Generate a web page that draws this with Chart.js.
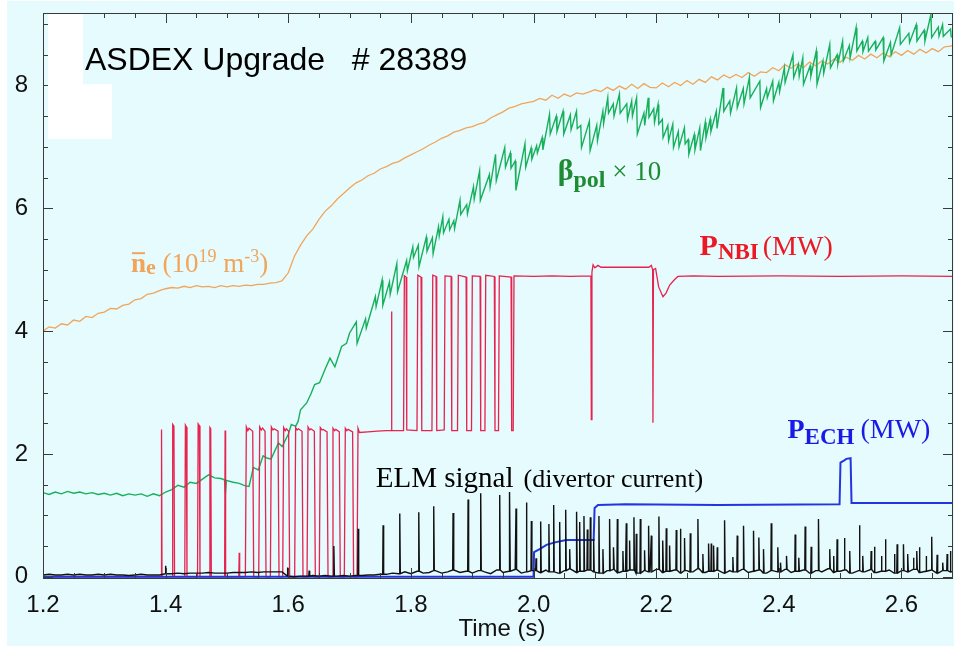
<!DOCTYPE html>
<html>
<head>
<meta charset="utf-8">
<title>ASDEX Upgrade #28389</title>
<script src="https://cdn.jsdelivr.net/npm/chart.js@4.4.1/dist/chart.umd.min.js"></script>
<style>
  html, body { margin: 0; padding: 0; background: #fff; }
  canvas { display: block; }
</style>
</head>
<body>
<canvas id="chart" width="954" height="647"></canvas>
<script>
// =======================
// DATA
// =======================

// axis tick labels
const xTicks = [1.2, 1.4, 1.6, 1.8, 2.0, 2.2, 2.4, 2.6];
const yTicks = [0, 2, 4, 6, 8];

// line-averaged density, 10^19 m^-3, sampled every 10 ms from 1.20 s
const neStart = 1.2, neStep = 0.01;
const neValues = [
  4.00, 4.07, 4.05, 4.12, 4.10, 4.18, 4.16, 4.24, 4.22, 4.29,
  4.31, 4.37, 4.36, 4.42, 4.44, 4.51, 4.53, 4.60, 4.62, 4.66,
  4.69, 4.71, 4.70, 4.73, 4.71, 4.74, 4.72, 4.73, 4.71, 4.74,
  4.72, 4.74, 4.73, 4.75, 4.74, 4.76, 4.76, 4.78, 4.79, 4.82,
  4.95, 5.22, 5.40, 5.55, 5.66, 5.82, 5.95, 6.04, 6.15, 6.24,
  6.33, 6.41, 6.46, 6.53, 6.57, 6.64, 6.68, 6.73, 6.76, 6.82,
  6.87, 6.92, 6.97, 7.03, 7.08, 7.14, 7.18, 7.24, 7.27, 7.31,
  7.33, 7.37, 7.40, 7.47, 7.52, 7.57, 7.63, 7.66, 7.70, 7.72,
  7.74, 7.79, 7.76, 7.84, 7.79, 7.86, 7.82, 7.88, 7.86, 7.89,
  7.93, 7.90, 7.97, 7.92, 7.99, 7.94, 8.02, 7.95, 8.03, 7.97,
  7.96, 8.04, 7.98, 8.05, 8.00, 8.08, 8.02, 8.10, 8.05, 8.14,
  8.09, 8.17, 8.12, 8.18, 8.13, 8.21, 8.15, 8.22, 8.21, 8.29,
  8.24, 8.34, 8.28, 8.35, 8.29, 8.38, 8.32, 8.40, 8.35, 8.43,
  8.38, 8.46, 8.41, 8.49, 8.43, 8.51, 8.45, 8.53, 8.47, 8.55,
  8.49, 8.57, 8.51, 8.59, 8.53, 8.60, 8.55, 8.63, 8.64, 8.68
];

// beta_pol x 10 up to 1.70 s (L-mode and early ramp)
const betaTime = [
  1.200, 1.210, 1.220, 1.230, 1.240, 1.250, 1.260, 1.270, 1.280, 1.290,
  1.300, 1.310, 1.320, 1.330, 1.340, 1.350, 1.360, 1.370, 1.380, 1.390,
  1.400, 1.410, 1.420, 1.430, 1.440, 1.450, 1.460, 1.470, 1.480, 1.490,
  1.496, 1.4975, 1.499, 1.510, 1.520, 1.530, 1.536, 1.543, 1.551, 1.559,
  1.566, 1.572, 1.584, 1.590, 1.600, 1.605, 1.612, 1.616, 1.620, 1.630,
  1.637, 1.643, 1.651, 1.660, 1.668, 1.676, 1.687, 1.695, 1.700
];
const betaValue = [
  1.37, 1.34, 1.38, 1.35, 1.39, 1.36, 1.38, 1.35, 1.37, 1.34,
  1.36, 1.33, 1.36, 1.32, 1.35, 1.33, 1.35, 1.31, 1.35, 1.32,
  1.38, 1.42, 1.49, 1.46, 1.54, 1.52, 1.59, 1.66, 1.61, 1.60,
  1.58, 1.36, 1.57, 1.54, 1.52, 1.48, 1.47, 1.78, 1.74, 1.97,
  1.93, 1.92, 2.18, 2.12, 2.32, 2.48, 2.45, 2.53, 2.72, 2.83,
  2.98, 3.13, 3.16, 3.38, 3.56, 3.42, 3.75, 3.80, 3.97
];

// beta_pol x 10 in H-mode: ELM crash times with value just before / just after
const betaCrash = [
  1.711, 1.726, 1.742, 1.753, 1.765, 1.777, 1.793, 1.803, 1.812, 1.825,
  1.835, 1.845, 1.852, 1.862, 1.870, 1.880, 1.891, 1.902, 1.912, 1.928,
  1.938, 1.953, 1.962, 1.970, 1.986, 1.996, 2.005, 2.014, 2.026, 2.037,
  2.048, 2.060, 2.070, 2.077, 2.091, 2.103, 2.113, 2.121, 2.130, 2.140,
  2.152, 2.160, 2.168, 2.180, 2.187, 2.196, 2.203, 2.210, 2.219, 2.227,
  2.236, 2.246, 2.252, 2.262, 2.271, 2.280, 2.288, 2.298, 2.309, 2.320,
  2.331, 2.342, 2.352, 2.369, 2.380, 2.390, 2.400, 2.409, 2.423, 2.432,
  2.439, 2.451, 2.461, 2.472, 2.483, 2.495, 2.504, 2.515, 2.526, 2.536,
  2.545, 2.557, 2.570, 2.582, 2.597, 2.612, 2.624, 2.637, 2.648, 2.660,
  2.667, 2.680
];
const betaPeak = [
  4.15, 4.20, 4.56, 4.83, 4.80, 5.10, 5.15, 5.37, 5.40, 5.53,
  5.52, 5.70, 5.86, 5.82, 5.80, 6.13, 6.06, 6.35, 6.61, 6.55,
  6.88, 6.99, 6.90, 6.77, 7.05, 6.98, 7.02, 7.15, 7.53, 7.50,
  7.58, 7.52, 7.58, 7.35, 7.42, 7.35, 7.58, 7.80, 7.70, 7.86,
  7.70, 7.75, 7.80, 7.55, 7.80, 7.62, 7.69, 7.45, 7.35, 7.37,
  7.25, 7.31, 7.12, 7.20, 7.31, 7.40, 7.45, 7.58, 7.96, 7.75,
  7.96, 7.95, 8.13, 8.07, 7.95, 8.07, 8.05, 8.29, 8.50, 8.35,
  8.45, 8.32, 8.56, 8.40, 8.67, 8.50, 8.72, 8.65, 8.94, 8.72,
  8.78, 8.72, 8.78, 8.70, 8.94, 8.85, 8.99, 8.90, 9.16, 8.95,
  8.99, 8.92
];
const betaDrop = [
  3.80, 4.05, 4.40, 4.42, 4.60, 4.64, 4.98, 5.20, 5.05, 5.30,
  5.26, 5.55, 5.60, 5.65, 5.67, 5.90, 5.91, 6.15, 6.13, 6.35,
  6.45, 6.67, 6.65, 6.29, 6.67, 6.80, 6.90, 6.95, 7.21, 7.25,
  7.21, 7.28, 7.30, 6.99, 6.94, 7.10, 7.38, 7.55, 7.50, 7.55,
  7.45, 7.50, 7.21, 7.35, 7.48, 7.40, 7.37, 7.15, 7.10, 6.99,
  7.00, 7.05, 6.88, 6.95, 6.94, 7.15, 7.25, 7.30, 7.58, 7.55,
  7.64, 7.70, 7.80, 7.64, 7.80, 7.75, 7.90, 8.05, 8.13, 8.15,
  8.02, 8.15, 8.02, 8.20, 8.29, 8.35, 8.40, 8.45, 8.56, 8.55,
  8.56, 8.58, 8.40, 8.50, 8.67, 8.70, 8.72, 8.72, 8.78, 8.80,
  8.80, 8.78
];

// NBI power, MW (modulated, then steady)
const nbiTime = [
  1.2000, 1.3925, 1.3933, 1.3941, 1.4105, 1.4115, 1.4135, 1.4145, 1.4312, 1.4322,
  1.4338, 1.4348, 1.4520, 1.4530, 1.4550, 1.4560, 1.4712, 1.4722, 1.4735, 1.4745,
  1.4962, 1.4970, 1.4978, 1.5193, 1.5200, 1.5207, 1.5300, 1.5316, 1.5340, 1.5360,
  1.5420, 1.5436, 1.5518, 1.5534, 1.5560, 1.5580, 1.5621, 1.5637, 1.5708, 1.5724,
  1.5750, 1.5770, 1.5833, 1.5849, 1.5909, 1.5925, 1.5950, 1.5970, 1.6006, 1.6022,
  1.6104, 1.6120, 1.6145, 1.6165, 1.6224, 1.6240, 1.6306, 1.6322, 1.6350, 1.6370,
  1.6425, 1.6441, 1.6506, 1.6522, 1.6550, 1.6570, 1.6632, 1.6648, 1.6713, 1.6729,
  1.6755, 1.6775, 1.6832, 1.6848, 1.6914, 1.6930, 1.6955, 1.6975, 1.7049, 1.7065,
  1.7121, 1.7137, 1.7160, 1.7300, 1.7450, 1.7600, 1.7676, 1.7683, 1.7690, 1.7880,
  1.7893, 1.7922, 1.7932, 1.8099, 1.8112, 1.8165, 1.8177, 1.8343, 1.8356, 1.8410,
  1.8421, 1.8543, 1.8556, 1.8655, 1.8666, 1.8760, 1.8773, 1.8900, 1.8910, 1.8988,
  1.9001, 1.9128, 1.9138, 1.9207, 1.9220, 1.9360, 1.9371, 1.9428, 1.9441, 1.9633,
  1.9643, 1.9668, 1.9681, 2.0000, 2.0300, 2.0600, 2.0935, 2.0942, 2.0952, 2.0970,
  2.1000, 2.1050, 2.1100, 2.1500, 2.1880, 2.1920, 2.1942, 2.1947, 2.1955, 2.1990,
  2.2040, 2.2110, 2.2160, 2.2220, 2.2300, 2.2354, 2.2600, 2.3000, 2.4000, 2.5000,
  2.6000, 2.6900
];
const nbiPower = [
  0, 0, 2.40, 0, 0, 2.48, 2.45, 0, 0, 2.47,
  2.44, 0, 0, 2.49, 2.46, 0, 0, 2.43, 2.41, 0,
  0, 2.38, 0, 0, 0.39, 0, 0, 2.44, 2.38, 2.42,
  2.37, 0, 0, 2.44, 2.39, 2.42, 2.37, 0, 0, 2.44,
  2.39, 2.41, 2.37, 0, 0, 2.43, 2.38, 2.41, 2.37, 0,
  0, 2.43, 2.39, 2.41, 2.37, 0, 0, 2.44, 2.39, 2.41,
  2.37, 0, 0, 2.43, 2.39, 2.40, 2.36, 0, 0, 2.42,
  2.38, 2.40, 2.36, 0, 0, 2.42, 2.38, 2.40, 2.36, 0,
  0, 2.42, 2.35, 2.36, 2.37, 2.38, 2.38, 4.32, 2.38, 2.38,
  4.90, 4.88, 2.39, 2.38, 4.91, 4.88, 2.38, 2.38, 4.91, 4.89,
  2.38, 2.39, 4.90, 4.89, 2.38, 2.38, 4.91, 4.88, 2.38, 2.38,
  4.90, 4.89, 2.38, 2.38, 4.91, 4.89, 2.38, 2.38, 4.90, 4.88,
  2.38, 2.38, 4.90, 4.89, 4.90, 4.89, 4.90, 2.56, 4.96, 5.08,
  5.03, 5.07, 5.04, 5.04, 5.04, 5.07, 5.00, 2.51, 5.00, 5.02,
  4.72, 4.56, 4.62, 4.75, 4.84, 4.89, 4.90, 4.89, 4.90, 4.89,
  4.90, 4.89
];

// ECH power, MW
const echTime  = [1.2, 2.0, 2.0008, 2.010, 2.021, 2.035, 2.053, 2.098, 2.0995, 2.105,
                  2.150, 2.300, 2.499, 2.5005, 2.506, 2.510, 2.517, 2.5185, 2.600, 2.690];
const echPower = [0, 0, 0.40, 0.45, 0.52, 0.56, 0.60, 0.60, 1.12, 1.17,
                  1.18, 1.17, 1.18, 1.86, 1.89, 1.92, 1.93, 1.20, 1.20, 1.20];

// ELM signal: baseline every 10 ms from 1.20 s, plus the individual ELM spikes
const elmStart = 1.2, elmStep = 0.01;
const elmBase = [
  0.03, 0.04, 0.03, 0.03, 0.04, 0.03, 0.04, 0.03, 0.03, 0.04,
  0.03, 0.04, 0.03, 0.03, 0.02, 0.03, 0.04, 0.03, 0.03, 0.03,
  0.05, 0.05, 0.06, 0.05, 0.06, 0.06, 0.06, 0.07, 0.06, 0.06,
  0.06, 0.07, 0.07, 0.07, 0.08, 0.07, 0.08, 0.08, 0.08, 0.08,
  0.01, 0.00, 0.01, 0.01, 0.02, 0.01, 0.02, 0.01, 0.01, 0.02,
  0.01, 0.02, 0.02, 0.03, 0.03, 0.04, 0.04, 0.06, 0.05, 0.08,
  0.05, 0.09, 0.06, 0.07, 0.10, 0.06, 0.08, 0.11, 0.07, 0.09,
  0.06, 0.10, 0.08, 0.05, 0.11, 0.07, 0.09, 0.12, 0.06, 0.08,
  0.10, 0.07, 0.11, 0.08, 0.06, 0.10, 0.13, 0.07, 0.09, 0.11,
  0.08, 0.06, 0.10, 0.12, 0.07, 0.09, 0.11, 0.06, 0.10, 0.08,
  0.12, 0.07, 0.09, 0.11, 0.06, 0.10, 0.08, 0.13, 0.07, 0.09,
  0.11, 0.06, 0.10, 0.08, 0.12, 0.07, 0.09, 0.11, 0.06, 0.10,
  0.08, 0.12, 0.07, 0.09, 0.11, 0.06, 0.10, 0.08, 0.13, 0.07,
  0.09, 0.11, 0.06, 0.10, 0.08, 0.12, 0.07, 0.09, 0.11, 0.06,
  0.10, 0.08, 0.12, 0.07, 0.09, 0.11, 0.06, 0.10, 0.08, 0.09
];
const elmTime = [
  1.400, 1.599, 1.634, 1.6743, 1.7139, 1.7546, 1.7818, 1.8128, 1.8372, 1.8687,
  1.8932, 1.9138, 1.9448, 1.9611, 1.9714, 1.9883, 1.9964, 2.004, 2.0116, 2.025,
  2.0328, 2.0426, 2.0524, 2.0589, 2.0703, 2.0752, 2.0822, 2.0877, 2.0926, 2.098,
  2.1066, 2.1131, 2.124, 2.1306, 2.1366, 2.1457, 2.1512, 2.1566, 2.1637, 2.1675,
  2.1741, 2.181, 2.1876, 2.192, 2.2044, 2.2109, 2.2164, 2.2218, 2.2327, 2.2397,
  2.2462, 2.2556, 2.268, 2.2761, 2.2854, 2.2898, 2.2935, 2.2996, 2.3115, 2.325,
  2.3321, 2.3424, 2.3587, 2.3674, 2.375, 2.3876, 2.3983, 2.4027, 2.4125, 2.4266,
  2.4325, 2.4429, 2.4527, 2.4646, 2.483, 2.4895, 2.495, 2.5069, 2.5156, 2.5314,
  2.5368, 2.5505, 2.5559, 2.5673, 2.5738, 2.5885, 2.5929, 2.6032, 2.6102, 2.6195,
  2.6249, 2.6293, 2.6402, 2.6493, 2.6581, 2.6672, 2.6744, 2.6798
];
const elmPeak = [
  0.18, 0.15, 0.10, 0.50, 0.78, 0.84, 1.03, 1.05, 1.15, 1.04,
  1.26, 1.36, 1.33, 1.38, 1.11, 1.21, 0.91, 0.30, 0.90, 0.86,
  1.17, 0.89, 1.09, 0.45, 1.06, 0.89, 0.99, 0.77, 0.97, 0.62,
  0.99, 0.45, 0.94, 0.48, 0.94, 0.42, 0.87, 0.59, 0.97, 0.70,
  0.94, 0.43, 0.83, 0.67, 0.98, 0.59, 0.79, 0.51, 0.76, 0.78,
  0.63, 0.71, 0.94, 0.37, 0.54, 0.54, 0.51, 0.48, 0.92, 0.32,
  0.67, 0.83, 0.75, 0.64, 0.45, 0.87, 0.48, 0.23, 0.34, 0.69,
  0.31, 0.82, 0.49, 0.94, 0.45, 0.34, 0.61, 0.63, 0.42, 0.84,
  0.34, 0.42, 0.49, 0.34, 0.61, 0.37, 0.53, 0.53, 0.37, 0.31,
  0.42, 0.48, 0.34, 0.65, 0.36, 0.23, 0.37, 0.42
];


// =======================
// STYLE
// =======================

const BG = "#e6fbfd";
const AXIS = "#3a3a3a";
const SANS = "'Liberation Sans', Arial, Helvetica, sans-serif";
const SERIF = "'Liberation Serif', 'Times New Roman', serif";

const C_NE = "#f0a55a";
const C_BETA = "#16b05c";
const C_NBI = "#e6224f";
const C_ECH = "#2236e0";
const C_ELM = "#111111";

Chart.defaults.font.family = SANS;
Chart.defaults.font.size = 24;
Chart.defaults.color = "#111";


// =======================
// BUILD POINTS
// =======================

const nePoints = neValues.map((v, i) => ({ x: neStart + i * neStep, y: v }));

// slow rise between crashes, near-vertical drop at each crash
const betaPoints = betaTime.map((t, i) => ({ x: t, y: betaValue[i] }));
betaCrash.forEach((t, i) => {
  betaPoints.push({ x: t, y: betaPeak[i] }, { x: t + 0.0012, y: betaDrop[i] });
});

const nbiPoints = nbiTime.map((t, i) => ({ x: t, y: nbiPower[i] }));
const echPoints = echTime.map((t, i) => ({ x: t, y: echPower[i] }));

const elmPoints = elmBase.map((v, i) => ({ x: elmStart + i * elmStep, y: v }));
elmTime.forEach((t, i) => {
  const b = elmBase[Math.round((t - elmStart) / elmStep)];
  elmPoints.push({ x: t - 0.0006, y: b }, { x: t, y: elmPeak[i] }, { x: t + 0.0009, y: b });
});
elmPoints.sort((a, b) => a.x - b.x);


// =======================
// LABELS ON THE PLOT (data coords of left end / baseline)
// =======================

const notes = [
  { x: 1.2684, y: 8.25, color: "#000", runs: [
    { text: "ASDEX Upgrade   # 28389", font: `32px ${SANS}` }
  ] },
  { x: 1.3434, y: 4.96, color: C_NE, runs: [
    { text: "n", font: `bold 27px ${SERIF}`, bar: true },
    { text: "e", font: `bold 22px ${SERIF}`, dy: 2 },
    { text: " (10", font: `27px ${SERIF}` },
    { text: "19", font: `18px ${SERIF}`, dy: -10 },
    { text: " m", font: `27px ${SERIF}` },
    { text: "-3", font: `18px ${SERIF}`, dy: -10 },
    { text: ")", font: `27px ${SERIF}` }
  ] },
  { x: 2.0393, y: 6.46, color: "#1e8c32", runs: [
    { text: "\u03B2", font: `bold 30px ${SERIF}` },
    { text: "pol", font: `bold 24px ${SERIF}`, dy: 7 },
    { text: " \u00D7 10", font: `27px ${SERIF}` }
  ] },
  { x: 2.2707, y: 5.24, color: "#eb1923", runs: [
    { text: "P", font: `bold 30px ${SERIF}` },
    { text: "NBI", font: `bold 23px ${SERIF}`, dy: 4 },
    { text: "(MW)", font: `28px ${SERIF}`, gap: 4 }
  ] },
  { x: 2.4141, y: 2.26, color: "#1a1ae8", runs: [
    { text: "P", font: `bold 28px ${SERIF}` },
    { text: "ECH", font: `bold 23px ${SERIF}`, dy: 6 },
    { text: "(MW)", font: `28px ${SERIF}`, gap: 6 }
  ] },
  { x: 1.7427, y: 1.46, color: "#000", runs: [
    { text: "ELM signal", font: `29px ${SERIF}` },
    { text: "(divertor current)", font: `26px ${SERIF}`, gap: 10 }
  ] }
];

// white patch in the top-left corner of the original figure
const patches = [
  { x0: 1.2081, x1: 1.2652, y0: 8.02, y1: 9.2 },
  { x0: 1.2081, x1: 1.3125, y0: 7.13, y1: 8.02 }
];

function drawRuns(ctx, x, y, runs, color) {
  ctx.fillStyle = color;
  ctx.strokeStyle = color;
  ctx.textAlign = "left";
  ctx.textBaseline = "alphabetic";
  for (const r of runs) {
    x += r.gap || 0;
    ctx.font = r.font;
    const w = ctx.measureText(r.text).width;
    ctx.fillText(r.text, x, y + (r.dy || 0));
    if (r.bar) {
      ctx.lineWidth = 2;
      ctx.beginPath();
      ctx.moveTo(x + 1, y - 19);
      ctx.lineTo(x + w - 1, y - 19);
      ctx.stroke();
    }
    x += w;
  }
}


// =======================
// PLUGIN: background, frame, inward ticks, text
// =======================

const decor = {
  id: "decor",
  beforeDraw(chart) {
    const { ctx, width, height } = chart;
    ctx.save();
    ctx.fillStyle = "#fff";
    ctx.fillRect(0, 0, width, height);
    ctx.fillStyle = BG;
    ctx.fillRect(7, 1, width - 7, height - 2);
    ctx.restore();
  },
  afterDatasetsDraw(chart) {
    const { ctx, chartArea: a, scales: { x, y } } = chart;
    ctx.save();

    // frame
    ctx.strokeStyle = AXIS;
    ctx.lineWidth = 1;
    ctx.strokeRect(a.left + 0.5, a.top + 0.5, a.right - a.left - 1, a.bottom - a.top);

    // inward ticks: 0.05 s on x, 0.5 on y, long ones at the labels
    ctx.beginPath();
    for (let k = 0; ; k++) {
      const t = 1.2 + k * 0.05;
      if (t > x.max) break;
      const px = Math.round(x.getPixelForValue(t)) + 0.5;
      const len = k % 4 === 0 ? 10 : 5;
      ctx.moveTo(px, a.top); ctx.lineTo(px, a.top + len);
      ctx.moveTo(px, a.bottom); ctx.lineTo(px, a.bottom - len);
    }
    for (let k = 0; k * 0.5 <= y.max; k++) {
      const py = Math.round(y.getPixelForValue(k * 0.5)) + 0.5;
      const len = k % 4 === 0 ? 10 : 5;
      ctx.moveTo(a.left, py); ctx.lineTo(a.left + len, py);
      ctx.moveTo(a.right, py); ctx.lineTo(a.right - len, py);
    }
    ctx.stroke();

    // white patch
    ctx.fillStyle = "#fff";
    patches.forEach(p => {
      const x0 = x.getPixelForValue(p.x0), x1 = x.getPixelForValue(p.x1);
      const y0 = Math.max(y.getPixelForValue(p.y1), a.top + 1), y1 = y.getPixelForValue(p.y0);
      ctx.fillRect(x0, y0, x1 - x0, y1 - y0);
    });

    // annotations
    notes.forEach(n => drawRuns(ctx, x.getPixelForValue(n.x), y.getPixelForValue(n.y), n.runs, n.color));

    // axis title
    ctx.font = `24px ${SANS}`;
    ctx.fillStyle = "#111";
    ctx.textAlign = "center";
    ctx.textBaseline = "alphabetic";
    ctx.fillText("Time (s)", (a.left + a.right) / 2 + 4, 636);

    ctx.restore();
  }
};


// =======================
// CHART
// =======================

const line = (data, color, width, order) => ({
  data, borderColor: color, borderWidth: width, order,
  pointRadius: 0, tension: 0, fill: false
});

new Chart(document.getElementById("chart"), {
  type: "line",
  data: {
    datasets: [
      line(elmPoints, C_ELM, 1.4, 0),
      line(echPoints, C_ECH, 2, 1),
      line(nbiPoints, C_NBI, 1.3, 2),
      line(betaPoints, C_BETA, 1.4, 3),
      line(nePoints, C_NE, 1.3, 4)
    ]
  },
  options: {
    responsive: false,
    animation: false,
    devicePixelRatio: 1,
    layout: { padding: { top: 13, right: 1, left: 0, bottom: 0 } },
    plugins: { legend: { display: false }, tooltip: { enabled: false } },
    scales: {
      x: {
        type: "linear",
        min: 1.2,
        max: 2.684,
        grid: { display: false },
        border: { display: false },
        afterBuildTicks: s => { s.ticks = xTicks.map(v => ({ value: v })); },
        afterFit: s => { s.height = 69; s.paddingLeft = 0; s.paddingRight = 0; },
        ticks: { padding: 5, maxRotation: 0, autoSkip: false, callback: v => v.toFixed(1) }
      },
      y: {
        type: "linear",
        min: -0.02,
        max: 9.18,
        grid: { display: false },
        border: { display: false },
        afterBuildTicks: s => { s.ticks = yTicks.map(v => ({ value: v })); },
        afterFit: s => { s.width = 43; s.paddingTop = 0; s.paddingBottom = 0; },
        ticks: { padding: 7, callback: v => String(v) }
      }
    }
  },
  plugins: [decor]
});
</script>
</body>
</html>
